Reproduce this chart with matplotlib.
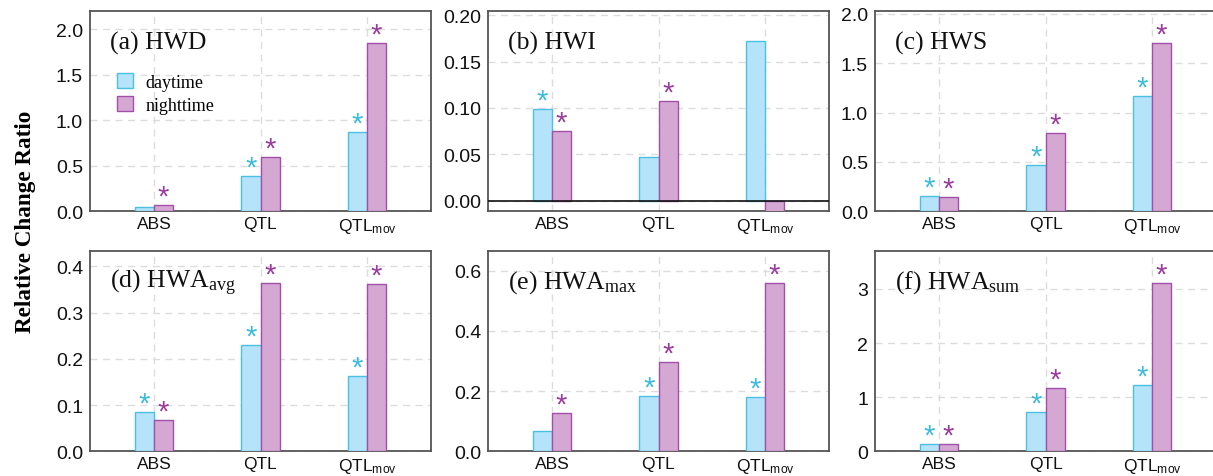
import matplotlib
matplotlib.use("Agg")
import matplotlib.pyplot as plt
import numpy as np
from matplotlib.ticker import FormatStrFormatter, MultipleLocator

plt.rcParams["font.family"] = ["Liberation Sans", "DejaVu Sans"]
plt.rcParams["mathtext.default"] = "regular"

categories = ["ABS", "QTL", r"QTL$_{mov}$"]

panel_titles = [
    "(a) HWD",
    "(b) HWI",
    "(c) HWS",
    r"(d) HWA$_{avg}$",
    r"(e) HWA$_{max}$",
    r"(f) HWA$_{sum}$",
]

daytime = [
    [0.047, 0.387, 0.867],
    [0.099, 0.047, 0.172],
    [0.158, 0.470, 1.172],
    [0.084, 0.229, 0.163],
    [0.069, 0.183, 0.181],
    [0.135, 0.733, 1.228],
]
nighttime = [
    [0.069, 0.593, 1.844],
    [0.075, 0.107, -0.020],
    [0.148, 0.797, 1.704],
    [0.067, 0.363, 0.361],
    [0.128, 0.295, 0.560],
    [0.135, 1.172, 3.110],
]
# significance flags (True -> asterisk above the bar)
day_sig = [
    [False, True, True],
    [True, False, False],
    [True, True, True],
    [True, True, True],
    [False, True, True],
    [True, True, True],
]
night_sig = [
    [True, True, True],
    [True, True, False],
    [True, True, True],
    [True, True, True],
    [True, True, True],
    [True, True, True],
]

ylims = [(0, 2.2), (-0.0113, 0.2045), (0, 2.03), (0, 0.433), (0, 0.665), (0, 3.7)]
ysteps = [0.5, 0.05, 0.5, 0.1, 0.2, 1]
yfmts = ["%.1f", "%.2f", "%.1f", "%.1f", "%.1f", "%d"]

day_fill, day_edge, day_star = "#b5e3fa", "#4cc0e2", "#3dbbdc"
night_fill, night_edge, night_star = "#d5a8d4", "#a24fa8", "#9a3c9e"

serif = ["Liberation Serif", "DejaVu Serif"]

W, H = 1213, 477
fig = plt.figure(figsize=(W / 100, H / 100), dpi=100)

col_left = [90, 488, 875]
row_top = [12, 252]
ax_w, ax_h = 341, 200.3

bw = 0.18
x = np.arange(len(categories))

for i in range(6):
    r, c = divmod(i, 3)
    ax = fig.add_axes([col_left[c] / W, (H - row_top[r] - ax_h) / H, ax_w / W, ax_h / H])
    d = np.array(daytime[i])
    n = np.array(nighttime[i])
    ax.bar(x - bw / 2, d, bw, color=day_fill, edgecolor=day_edge, linewidth=1.0,
           label="daytime", zorder=3)
    ax.bar(x + bw / 2, n, bw, color=night_fill, edgecolor=night_edge, linewidth=1.0,
           label="nighttime", zorder=3)
    for k in range(len(categories)):
        if day_sig[i][k]:
            ax.annotate("*", (x[k] - bw / 2, max(d[k], 0)), xytext=(0, -4),
                        textcoords="offset points", ha="center", va="bottom",
                        color=day_star, fontsize=21, zorder=4)
        if night_sig[i][k]:
            ax.annotate("*", (x[k] + bw / 2, max(n[k], 0)), xytext=(0, -4),
                        textcoords="offset points", ha="center", va="bottom",
                        color=night_star, fontsize=21, zorder=4)

    ax.set_xlim(-0.6, 2.6)
    ax.set_ylim(*ylims[i])
    ax.yaxis.set_major_locator(MultipleLocator(ysteps[i]))
    ax.yaxis.set_major_formatter(FormatStrFormatter(yfmts[i]))
    ax.set_xticks(x)
    ax.set_xticklabels(categories)
    ax.tick_params(axis="x", length=0, labelsize=12.5, colors="#111111", pad=3.5)
    ax.tick_params(axis="y", length=0, labelsize=14, colors="#111111", pad=5)
    ax.grid(True, color="#dcdcdc", linestyle=(0, (5, 4)), linewidth=1.0, zorder=0)
    ax.set_axisbelow(True)
    for sp in ax.spines.values():
        sp.set_color("#555555")
        sp.set_linewidth(1.3)
    if ylims[i][0] < 0:
        ax.axhline(0, color="#111111", linewidth=1.2, zorder=5)

    ax.text(0.059, 0.845, panel_titles[i], transform=ax.transAxes, ha="left",
            va="center", fontsize=18.5, family=serif, color="#111111", zorder=6)

    if i == 0:
        ax.legend(loc="upper left", bbox_to_anchor=(0.079, 0.69), frameon=False,
                  prop={"family": serif, "size": 13},
                  handlelength=0.9, handleheight=0.9, handletextpad=0.7,
                  labelspacing=0.3, borderaxespad=0, borderpad=0)

fig.text(0.021, 0.535, "Relative Change Ratio", rotation=90, ha="center", va="center",
         fontsize=16.7, fontweight="bold", family=serif)

fig.savefig("out.png", dpi=100)
